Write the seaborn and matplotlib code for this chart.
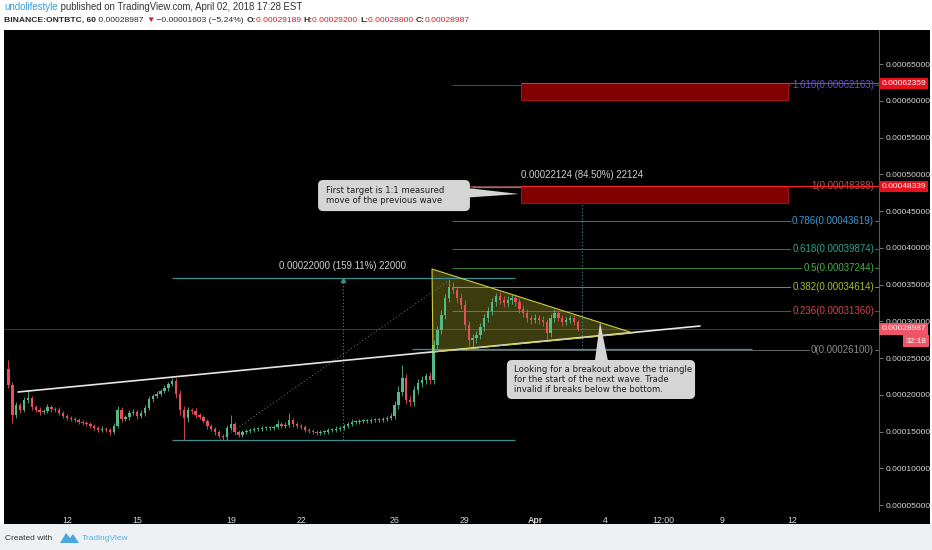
import numpy as np
import pandas as pd
import seaborn as sns
import matplotlib.pyplot as plt
import matplotlib.transforms as mtransforms
from matplotlib.patches import Rectangle, FancyBboxPatch, Polygon

# ONTBTC 4h candles, prices in satoshi (1e-8 BTC), starting 2018-03-09 12:00
first_open = 23500
closes = [
    21330, 17250, 18610, 17930, 19290, 19560, 18340, 17930, 17650, 17790,
    18340, 18060, 17930, 17520, 17110, 16840, 16700, 16570, 16290, 16160,
    16020, 15750, 15480, 15210, 15340, 15210, 14930, 15750, 17930, 16700,
    16970, 17520, 17650, 17110, 17520, 18200, 19420, 19830, 20100, 20510,
    20920, 21460, 21870, 20100, 17930, 16840, 17930, 17790, 17250, 16970,
    16430, 15750, 15340, 14930, 14390, 14250, 15480, 16020, 14930, 14530,
    14930, 15070, 15210, 15340, 15340, 15480, 15480, 15480, 15610, 16020,
    15750, 15890, 16570, 16020, 15750, 15610, 15210, 15070, 14930, 14800,
    14930, 14930, 15210, 15210, 15340, 15480, 15750, 16020, 16290, 16290,
    16430, 16430, 16430, 16570, 16570, 16570, 16700, 16840, 17110, 18610,
    20380, 22280, 19290, 19020, 20650, 21600, 22010, 22550, 22010, 26770,
    28810, 30850, 33160, 34660, 34250, 33160, 32210, 29490, 27450, 27720,
    28130, 29220, 30440, 31400, 32620, 33440, 32890, 32480, 32890, 33160,
    32620, 31670, 31120, 30440, 30170, 30440, 30170, 29900, 28400, 30440,
    31120, 30440, 29900, 30170, 30440, 29900, 28987,
]
upper_wicks = [
    1230, 400, 350, 300, 450, 1090, 300, 250, 350, 300,
    400, 300, 250, 350, 300, 250, 300, 250, 300, 250,
    300, 250, 300, 250, 350, 300, 250, 400, 500, 350,
    300, 400, 350, 300, 400, 350, 400, 300, 350, 300,
    350, 300, 450, 400, 500, 600, 450, 300, 350, 300,
    300, 250, 300, 250, 300, 250, 350, 1230, 300, 250,
    300, 250, 300, 250, 300, 250, 300, 250, 300, 600,
    300, 350, 950, 300, 250, 300, 250, 300, 250, 300,
    250, 300, 250, 300, 350, 300, 250, 300, 350, 300,
    250, 300, 300, 250, 300, 250, 300, 250, 350, 500,
    800, 1770, 600, 500, 600, 500, 600, 450, 500, 680,
    600, 700, 600, 950, 700, 600, 650, 700, 600, 550,
    600, 500, 600, 550, 600, 440, 500, 600, 550, 500,
    600, 500, 550, 500, 450, 500, 450, 500, 450, 600,
    550, 450, 400, 450, 400, 350, 300,
]
lower_wicks = [
    400, 1100, 400, 350, 300, 350, 400, 300, 350, 300,
    300, 350, 300, 250, 300, 250, 300, 300, 250, 300,
    250, 300, 250, 300, 250, 300, 350, 300, 300, 350,
    300, 350, 300, 400, 300, 350, 300, 350, 300, 300,
    300, 350, 300, 500, 700, 3010, 500, 400, 350, 300,
    300, 350, 300, 350, 300, 420, 350, 300, 350, 300,
    250, 300, 250, 300, 250, 300, 250, 300, 250, 300,
    300, 250, 300, 350, 300, 250, 300, 250, 300, 250,
    300, 250, 300, 250, 300, 250, 300, 250, 300, 250,
    300, 250, 300, 250, 300, 250, 300, 250, 300, 400,
    500, 600, 600, 500, 600, 500, 600, 500, 600, 500,
    600, 500, 600, 500, 600, 700, 600, 700, 800, 950,
    700, 600, 550, 600, 500, 550, 600, 500, 600, 550,
    500, 600, 500, 550, 500, 450, 500, 550, 820, 500,
    500, 450, 500, 400, 450, 400, 350,
]

# fibonacci retracement (prices in satoshi)
fib_ratios = ["0", "0.236", "0.382", "0.5", "0.618", "0.786", "1", "1.618"]
fib_prices = [26100, 31360, 34614, 37244, 39874, 43619, 48388, 62163]
fib_colors = ["#8c8c8c", "#d8434f", "#a2c232", "#45b045", "#2aa48c", "#3a9ad8", "#c0505a", "#5757d6"]

# measure tools
measure1 = (13827, 35827, "0.00022000 (159.11%) 22000")
measure2 = (26182, 48306, "0.00022124 (84.50%) 22124")

# target boxes (bottom, top)
target_boxes = [(60100, 62359), (46090, 48339)]

last_price = 28987

x_ticks = [0, 3, 7, 10, 14, 17, 20, 23, 25.5, 28, 31]
x_labels = ["12", "15", "19", "22", "26", "29", "Apr", "4", "12:00", "9", "12"]
y_ticks = list(range(5000, 65001, 5000))

GREEN = "#53b987"
RED = "#eb4d5c"
TEAL = "#3a9090"

sns.set_theme(style="dark", rc={"axes.facecolor": "black"})
plt.rcParams["font.family"] = ["Liberation Sans", "DejaVu Sans"]

fig = plt.figure(figsize=(9.32, 5.5), dpi=100, facecolor="white")
W, H = 932, 550

# black chart panel + footer background
fig.patches.append(Rectangle((0, 0), 1, 26 / H, transform=fig.transFigure,
                             fc="#eef1f4", ec="none", zorder=-10))
fig.patches.append(Rectangle((4 / W, 26 / H), 926 / W, 494 / H, transform=fig.transFigure,
                             fc="black", ec="none", zorder=-10))

ax = fig.add_axes([4 / W, 39 / H, 875 / W, 481 / H])
ax.set_facecolor("black")
ax.set_xlim(-2.69, 34.70)
ax.set_ylim(4185, 69626)

# candles
times = pd.date_range("2018-03-09 12:00", periods=len(closes), freq="4h")
t = ((times - pd.Timestamp("2018-03-12")) / pd.Timedelta("1D")).to_numpy()
c = np.array(closes, dtype=float)
o = np.array([first_open] + closes[:-1], dtype=float)
hi = np.maximum(o, c) + np.array(upper_wicks)
lo = np.minimum(o, c) - np.array(lower_wicks)
cols = np.where(c >= o, GREEN, RED)
ax.vlines(t, lo, hi, colors=cols, lw=0.6, zorder=4)
body = np.maximum(np.abs(c - o), 120)
ax.bar(t, body, bottom=np.minimum(o, c), width=0.1, color=cols, lw=0, zorder=5)

# last price line
ax.axhline(last_price, color=RED, lw=0.6, alpha=0.5, zorder=2)

# ascending trendline
trend = pd.DataFrame({"t": [-2.09, 27.05], "p": [20376, 29356]})
sns.lineplot(data=trend, x="t", y="p", ax=ax, color="#e6e6e6", lw=1.2, zorder=6)

# triangle
tri_pts = [(15.60, 37110), (15.64, 25818), (24.19, 28403)]
ax.add_patch(Polygon(tri_pts, closed=True, fc="#c8c832", alpha=0.3, ec="none", zorder=3))
ax.add_patch(Polygon(tri_pts, closed=True, fill=False, ec="#cccc44", lw=0.8, zorder=6))

# measure 1
lo1, hi1, txt1 = measure1
ax.hlines([lo1, hi1], 4.49, 19.15, color=TEAL, lw=0.9, zorder=3)
ax.vlines(11.79, lo1, hi1, color=TEAL, lw=0.8, linestyles=(0, (1, 2)), zorder=3)
ax.plot([11.79], [hi1 - 250], marker="^", ms=3, color=TEAL, zorder=3)
ax.plot([6.54, 16.45], [lo1, hi1], color="#5d8f84", lw=0.7, ls=(0, (1, 2.5)), zorder=3)
ax.text(11.79, 37518, txt1, color="#cfcfcf", fontsize=6.9, ha="center", va="center", zorder=7)

# measure 2
lo2, hi2, txt2 = measure2
ax.hlines(lo2, 14.74, 29.27, color=TEAL, lw=0.9, zorder=3)
ax.hlines(hi2, 17.31, 29.27, color="#4d8f8f", lw=0.9, zorder=3)
ax.vlines(22.01, lo2, hi2, color=TEAL, lw=0.8, linestyles=(0, (1, 2)), zorder=3)
ax.plot([22.01], [hi2 - 250], marker="^", ms=3, color=TEAL, zorder=3)
ax.text(22.01, 49898, txt2, color="#cfcfcf", fontsize=6.9, ha="center", va="center", zorder=7)

# fibonacci levels
for r, p, col in zip(fib_ratios, fib_prices, fib_colors):
    ax.hlines(p, 16.45, 34.70, color=col, lw=0.7, alpha=0.75, zorder=2)
    ax.text(34.49, p, f"{r}({p / 1e8:.8f})", color=col, fontsize=7.0, ha="right", va="center",
            zorder=7, bbox=dict(boxstyle="square,pad=0.1", fc="black", ec="none"))

# target boxes
for b, top in target_boxes:
    ax.add_patch(Rectangle((19.4, b), 30.8 - 19.4, top - b, fc="#800000", ec="#b01818", lw=0.6, zorder=4))
    ax.hlines(top, 19.4, 34.70, color="#ff2020", lw=0.8, zorder=8)

# callouts
CALL = "#d5d5d5"


def callout(x0, x1, y0, y1, pointer, text, tx, ty):
    ax.add_patch(FancyBboxPatch((x0, y0), x1 - x0, y1 - y0,
                                boxstyle="round,pad=0,rounding_size=0.22",
                                mutation_aspect=3184, fc=CALL, ec="none", zorder=9))
    ax.add_patch(Polygon(pointer, closed=True, fc=CALL, ec="none", zorder=9))
    ax.text(tx, ty, text, color="#1e1e1e", fontsize=6.1, family="DejaVu Sans",
            ha="left", va="center", linespacing=1.1, zorder=10)


callout(10.73, 17.22, 44989, 49218,
        [(17.1, 48130), (19.32, 47313), (17.1, 46827)],
        "First target is 1:1 measured\nmove of the previous wave", 11.07, 47109)
callout(18.80, 26.84, 19422, 24729,
        [(22.56, 24600), (22.78, 29900), (23.12, 24600)],
        "Looking for a breakout above the triangle\nfor the start of the next wave. Trade\n"
        "invalid if breaks below the bottom.", 19.10, 22073)

# axes styling
for s in ["top", "left", "bottom"]:
    ax.spines[s].set_visible(False)
ax.spines["right"].set_color("#5a5a5a")
ax.spines["right"].set_linewidth(0.8)
ax.grid(False)
ax.yaxis.tick_right()
ax.set_yticks(y_ticks)
ax.set_yticklabels([f"{v / 1e8:.8f}" for v in y_ticks])
ax.tick_params(axis="y", colors="#8a8a8a", labelcolor="#d6d6d6", labelsize=6.0,
               length=3, width=0.6, pad=1.5, right=True)
ax.set_xticks(x_ticks)
ax.set_xticklabels(x_labels)
ax.tick_params(axis="x", labelcolor="#d6d6d6", labelsize=6.3, length=0, pad=3.5)
ax.get_xticklabels()[6].set_fontweight("bold")
ax.set_xlabel("")
ax.set_ylabel("")

# price labels on the scale
blend = mtransforms.blended_transform_factory(ax.transAxes, ax.transData)
for txt, p, fc in [("0.00062359", 62359, "#e8101e"), ("0.00048339", 48339, "#e8101e"),
                   ("0.00028987", last_price, "#ef5467")]:
    ax.text(1.0025, p, txt, transform=blend, color="white", fontsize=6.0, ha="left", va="center",
            clip_on=False, zorder=11, bbox=dict(boxstyle="square,pad=0.28", fc=fc, ec="none"))
ax.text(1.0545, 27313, "32:18", transform=blend, color="white", fontsize=6.0, ha="right",
        va="center", clip_on=False, zorder=11, bbox=dict(boxstyle="square,pad=0.28", fc="#ef5467", ec="none"))

# header
renderer = fig.canvas.get_renderer()


def text_runs(y, runs, size):
    x = 4 / W
    for s, col, wt in runs:
        tt = fig.text(x, y, s, color=col, fontsize=size, fontweight=wt, ha="left", va="center")
        x += tt.get_window_extent(renderer=renderer).width / fig.bbox.width


DARK = "#2a2a2a"
HRED = "#c8202a"
text_runs(1 - 7 / H, [("undolifestyle", "#3d9ad6", "normal"),
                      (" published on TradingView.com, April 02, 2018 17:28 EST", "#333333", "normal")], 6.9)
text_runs(1 - 20 / H, [("BINANCE:ONTBTC, 60", DARK, "bold"), (" 0.00028987 ", DARK, "normal"),
                       ("\u25bc", HRED, "normal"), (" \u22120.00001603 (\u22125.24%) ", DARK, "normal"),
                       ("O:", DARK, "bold"), ("0.00029189 ", HRED, "normal"),
                       ("H:", DARK, "bold"), ("0.00029200 ", HRED, "normal"),
                       ("L:", DARK, "bold"), ("0.00028800 ", HRED, "normal"),
                       ("C:", DARK, "bold"), ("0.00028987", HRED, "normal")], 6.1)

# footer
fig.text(5 / W, 1 - 538 / H, "Created with", color="#333333", fontsize=6, ha="left", va="center")
logo = Polygon([(60 / W, 1 - 543 / H), (66 / W, 1 - 533 / H), (70 / W, 1 - 538 / H),
                (73 / W, 1 - 534 / H), (79 / W, 1 - 543 / H)], closed=True,
               transform=fig.transFigure, fc="#4da6e0", ec="none")
fig.patches.append(logo)
fig.text(82 / W, 1 - 538 / H, "TradingView", color="#5aaee6", fontsize=6, ha="left", va="center")

fig.savefig("out.png", dpi=100, facecolor=fig.get_facecolor())
